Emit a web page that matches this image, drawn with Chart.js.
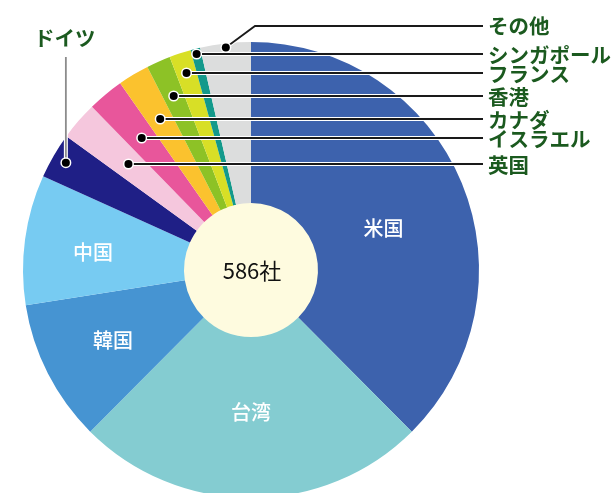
<!DOCTYPE html>
<html>
<head>
<meta charset="utf-8">
<script src="https://cdn.jsdelivr.net/npm/chart.js@4/dist/chart.umd.min.js"></script>
<style>
html,body{margin:0;padding:0;background:#fff;overflow:hidden;}
canvas{display:block;}
</style>
</head>
<body>
<canvas id="c" width="614" height="500" style="width:614px;height:500px"></canvas>
<script>
// ---- data ----
const categories = ['米国','台湾','韓国','中国','ドイツ','英国','イスラエル','カナダ','香港','フランス','シンガポール','その他'];
const counts = [220,146,59,54,19,16,15,13,10,9,4,21];
const sliceColors = ['#3d62ad','#84ccd1','#4694d2','#77cbf2','#1f1f86','#f5c7dd','#e8569b','#fbc22e','#8dc226','#d8df26','#13998b','#dcdddd'];
const centerText = '586社';

// ---- label placement (styling only) ----
const insideLabels = { 0:{dAng:5, r:139}, 1:{dAng:0, r:142}, 2:{dAng:0, r:155}, 3:{dAng:-1.5, r:159} };
const calloutCfg = {
  4:{type:'up', lineTop:57, textY:38},
  5:{type:'h', y:164}, 6:{type:'h', y:138}, 7:{type:'h', y:119},
  8:{type:'h', y:96}, 9:{type:'h', y:73}, 10:{type:'h', y:54},
  11:{type:'elbow', r:224, kx:255, y:26}
};
const LINE_END = 483, TEXT_X = 488;

const labelPlugin = {
  id:'labels',
  beforeDatasetsDraw(chart){
    const ctx = chart.ctx;
    const arc = chart.getDatasetMeta(0).data[0];
    ctx.save();
    ctx.fillStyle = '#fefbdf';
    ctx.beginPath();
    ctx.arc(arc.x, arc.y, arc.innerRadius + 0.5, 0, Math.PI*2);
    ctx.fill();
    ctx.restore();
  },
  afterDatasetsDraw(chart){
    const ctx = chart.ctx;
    const meta = chart.getDatasetMeta(0);
    const cx = meta.data[0].x, cy = meta.data[0].y;
    ctx.save();
    // center text
    ctx.fillStyle = '#111';
    ctx.font = '400 22px "Noto Sans CJK JP", "Noto Sans", sans-serif';
    ctx.textAlign = 'center'; ctx.textBaseline = 'middle';
    ctx.fillText(centerText, cx + 1, cy + 1);

    // inside labels
    ctx.fillStyle = '#ffffff';
    ctx.font = '500 20px "Noto Sans CJK JP", sans-serif';
    Object.keys(insideLabels).forEach(k => {
      const a = meta.data[k];
      const cfg = insideLabels[k];
      const mid = (a.startAngle + a.endAngle)/2 + cfg.dAng*Math.PI/180;
      ctx.fillText(categories[k], cx + cfg.r*Math.cos(mid), cy + cfg.r*Math.sin(mid));
    });

    // callouts
    const drawLine = (pts, color) => {
      ctx.lineCap = 'butt'; ctx.lineJoin = 'miter';
      ctx.strokeStyle = '#ffffff'; ctx.lineWidth = 4;
      ctx.beginPath(); pts.forEach((p,i)=> i?ctx.lineTo(p[0],p[1]):ctx.moveTo(p[0],p[1])); ctx.stroke();
      ctx.strokeStyle = color; ctx.lineWidth = 1.8;
      ctx.beginPath(); pts.forEach((p,i)=> i?ctx.lineTo(p[0],p[1]):ctx.moveTo(p[0],p[1])); ctx.stroke();
    };
    const drawDot = (x,y) => {
      ctx.fillStyle = '#ffffff';
      ctx.beginPath(); ctx.arc(x,y,5.5,0,Math.PI*2); ctx.fill();
      ctx.fillStyle = '#000000';
      ctx.beginPath(); ctx.arc(x,y,4,0,Math.PI*2); ctx.fill();
    };
    ctx.font = '700 20.5px "Noto Sans CJK JP", sans-serif';
    Object.keys(calloutCfg).forEach(k => {
      const a = meta.data[k];
      const cfg = calloutCfg[k];
      const mid = (a.startAngle + a.endAngle)/2;
      let dx, dy;
      if (cfg.type === 'h') {
        const r = (cfg.y - cy)/Math.sin(mid);
        dx = cx + r*Math.cos(mid); dy = cfg.y;
        drawLine([[dx,dy],[LINE_END,dy]], '#1a1a1a');
        drawDot(dx,dy);
        ctx.fillStyle = '#1b5a1f'; ctx.textAlign='left'; ctx.textBaseline='middle';
        ctx.fillText(categories[k], TEXT_X, cfg.y + 1);
      } else if (cfg.type === 'elbow') {
        dx = cx + cfg.r*Math.cos(mid); dy = cy + cfg.r*Math.sin(mid);
        drawLine([[dx,dy],[cfg.kx,cfg.y],[LINE_END,cfg.y]], '#1a1a1a');
        drawDot(dx,dy);
        ctx.fillStyle = '#1b5a1f'; ctx.textAlign='left'; ctx.textBaseline='middle';
        ctx.fillText(categories[k], TEXT_X, cfg.y);
      } else {
        const r = 214;
        dx = cx + r*Math.cos(mid); dy = cy + r*Math.sin(mid);
        drawLine([[dx,dy],[dx,cfg.lineTop]], '#8c8c8c');
        drawDot(dx,dy);
        ctx.fillStyle = '#1b5a1f'; ctx.textAlign='center'; ctx.textBaseline='middle';
        ctx.fillText(categories[k], dx - 1, cfg.textY);
      }
    });
    ctx.restore();
  }
};

new Chart(document.getElementById('c'), {
  type:'doughnut',
  data:{
    labels: categories,
    datasets:[{ data: counts, backgroundColor: sliceColors, borderWidth: 0, hoverOffset: 0 }]
  },
  options:{
    responsive:false,
    devicePixelRatio:1,
    animation:false,
    cutout: 67,
    rotation: 0,
    layout:{ padding:{ left:23, right:135, top:42, bottom:2 } },
    plugins:{ legend:{display:false}, tooltip:{enabled:false} },
    events: []
  },
  plugins:[labelPlugin]
});
</script>
</body>
</html>
